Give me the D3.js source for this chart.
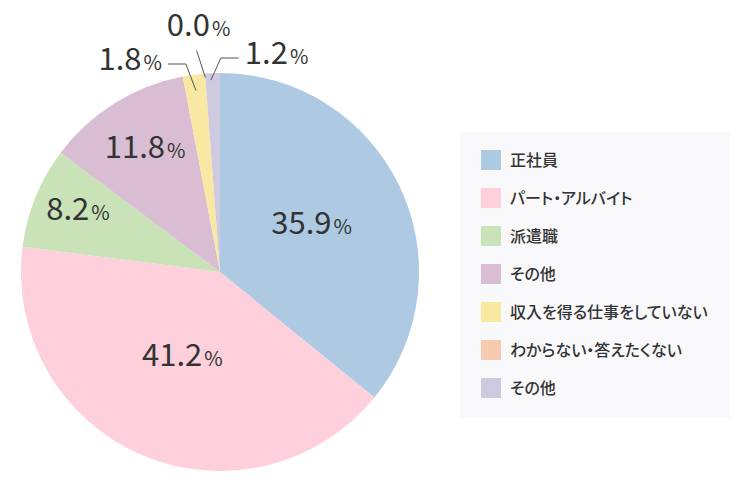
<!DOCTYPE html>
<html>
<head>
    <meta charset="utf-8">
    <title>就業形態</title>
    <style>
        body { margin: 0; background: #fff; }
        svg { display: block; font-family: "Noto Sans CJK JP", "Noto Sans", sans-serif; }
        .num { fill: #333; font-weight: 400; }
        .leader { fill: none; stroke: #555; stroke-width: 1px; }
        .item text { font-feature-settings: "palt"; }
    </style>
    <script src="https://d3js.org/d3.v7.min.js"></script>
</head>
<body>
    <div id="chart"></div>
    <script>
        // data
        var categories = ["正社員", "パート・アルバイト", "派遣職", "その他", "収入を得る仕事をしていない", "わからない・答えたくない", "その他"];
        var values = [35.9, 41.2, 8.2, 11.8, 1.8, 0.0, 1.2];
        var colorList = ["#aecae3", "#fdd0dc", "#c9e2b8", "#d9bed3", "#f9e8a2", "#f8cbb0", "#cdcae0"];

        var width = 750, height = 490;
        var cx = 220, cy = 272, r = 199;

        var svg = d3.select("#chart").append("svg")
            .attr("width", width)
            .attr("height", height);

        var color = d3.scaleOrdinal().domain(d3.range(values.length)).range(colorList);

        var pie = d3.pie().sort(null).value(function(d) { return d; });
        var arcs = pie(values);
        var arc = d3.arc().innerRadius(0).outerRadius(r);

        var g = svg.append("g").attr("transform", "translate(" + cx + "," + cy + ")");

        g.selectAll("path.slice")
            .data(arcs)
            .enter().append("path")
            .attr("class", "slice")
            .attr("fill", function(d, i) { return color(i); })
            .attr("d", arc);

        // label layout: inner labels at a radius fraction, small ones outside with leader lines
        var inside = { 0: 0.51, 1: 0.48, 2: 0.77, 3: 0.71 };
        function pt(angle, rad) {
            return [Math.sin(angle) * rad, -Math.cos(angle) * rad];
        }
        function mid(d) { return (d.startAngle + d.endAngle) / 2; }

        function addLabel(sel, i, anchor) {
            sel.append("tspan").attr("class", "num").style("font-size", "31px").text(values[i].toFixed(1));
            sel.append("tspan").attr("class", "num").style("font-size", "20px").attr("dx", 2).text("%");
            sel.attr("text-anchor", anchor);
        }

        arcs.forEach(function(d, i) {
            if (inside[i] !== undefined) {
                var p = pt(mid(d), r * inside[i]);
                var t = g.append("text").attr("x", p[0]).attr("y", p[1]).attr("dy", "0.36em");
                addLabel(t, i, "middle");
            }
        });

        // 1.8%
        var a4 = mid(arcs[4]);
        var s4 = pt(a4, r * 0.92);
        var e4 = [s4[0] - 10, -r - 9];
        g.append("path").attr("class", "leader")
            .attr("d", d3.line()([s4, e4, [e4[0] - 18, e4[1]]]));
        addLabel(g.append("text").attr("x", e4[0] - 24).attr("y", e4[1]).attr("dy", "0.36em"), 4, "end");

        // 0.0%
        var a5 = arcs[5].startAngle;
        var s5 = pt(a5, r * 0.98);
        var e5 = pt(a5 - 0.03, r * 1.12);
        g.append("path").attr("class", "leader").attr("d", d3.line()([s5, e5]));
        addLabel(g.append("text").attr("x", e5[0] + 2).attr("y", e5[1] - 14), 5, "middle");

        // 1.2%
        var a6 = mid(arcs[6]) - 0.01;
        var s6 = pt(a6, r * 0.965);
        var e6 = [s6[0] + 10, -r - 15];
        g.append("path").attr("class", "leader")
            .attr("d", d3.line()([s6, e6, [e6[0] + 18, e6[1]]]));
        addLabel(g.append("text").attr("x", e6[0] + 24).attr("y", e6[1]).attr("dy", "0.36em"), 6, "start");

        // legend
        var legend = svg.append("g").attr("transform", "translate(460,132)");
        legend.append("rect").attr("width", 270).attr("height", 286).attr("fill", "#f9f8fb");

        var row = d3.scaleLinear().domain([0, 1]).range([28, 66]);
        var items = legend.selectAll("g.item")
            .data(categories)
            .enter().append("g")
            .attr("class", "item")
            .attr("transform", function(d, i) { return "translate(21," + row(i) + ")"; });
        items.append("rect")
            .attr("y", -10).attr("width", 20).attr("height", 20)
            .attr("fill", function(d, i) { return color(i); });
        items.append("text")
            .attr("x", 29).attr("dy", "0.36em")
            .style("font-size", "16px").style("font-weight", 500)
            .attr("fill", "#333")
            .text(function(d) { return d; });
    </script>
</body>
</html>
